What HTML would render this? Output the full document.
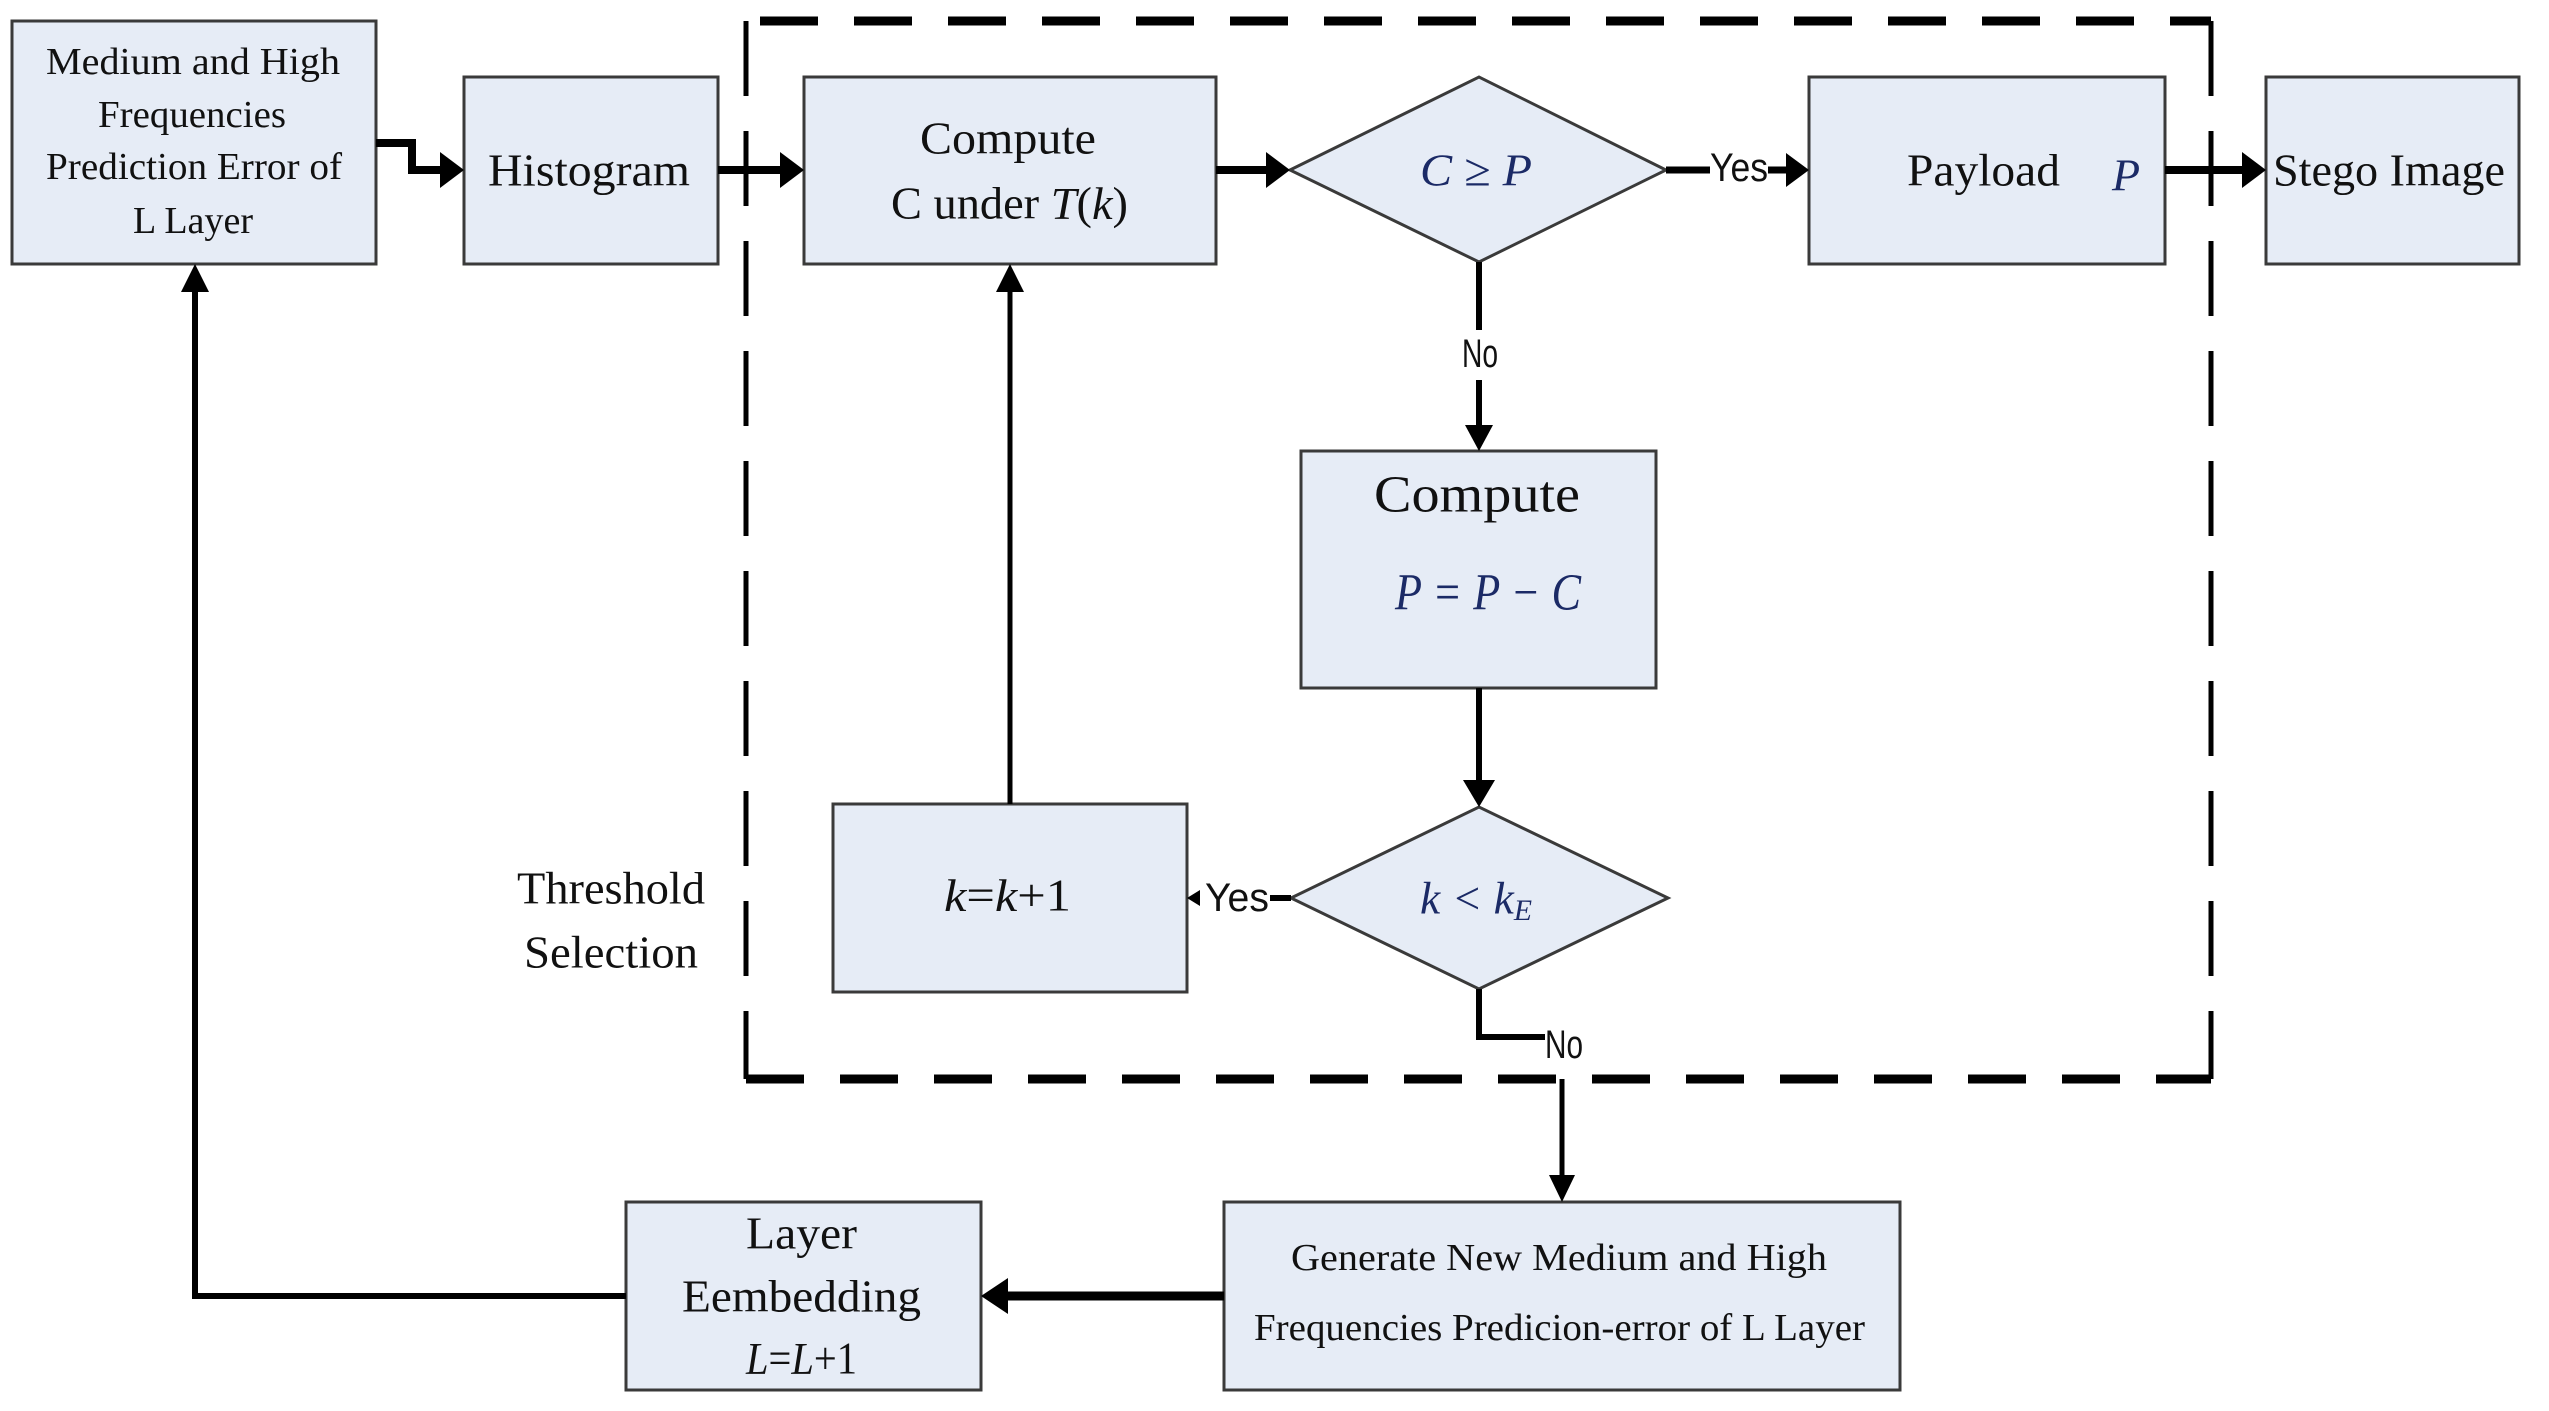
<!DOCTYPE html>
<html><head><meta charset="utf-8"><style>
html,body{margin:0;padding:0;background:#fff}
svg{display:block}
text{font-family:"Liberation Serif",serif;fill:#111;dominant-baseline:central;text-anchor:start}
.s{font-family:"Liberation Sans",sans-serif}
.m{font-style:italic;fill:#1b2a66}
</style></head><body>
<svg width="2549" height="1411" viewBox="0 0 2549 1411" xmlns="http://www.w3.org/2000/svg">
<g fill="#e6ecf6" stroke="#3a3a3a" stroke-width="3">
<rect x="12" y="21" width="364" height="243"/>
<rect x="464" y="77" width="254" height="187"/>
<rect x="804" y="77" width="412" height="187"/>
<rect x="1809" y="77" width="356" height="187"/>
<rect x="2266" y="77" width="253" height="187"/>
<rect x="1301" y="451" width="355" height="237"/>
<rect x="833" y="804" width="354" height="188"/>
<rect x="1224" y="1202" width="676" height="188"/>
<rect x="626" y="1202" width="355" height="188"/>
<polygon points="1290,170 1479,77 1666,170 1479,262"/>
<polygon points="1291,898 1479,807 1668,898 1479,989"/>
</g>
<!-- dashed frame -->
<g stroke="#000" fill="none">
<path d="M760 21 H2211" stroke-width="9" stroke-dasharray="58 36"/>
<path d="M746 1079 H2211" stroke-width="9" stroke-dasharray="58 36"/>
<path d="M746 21 V1079" stroke-width="5" stroke-dasharray="75 35"/>
<path d="M2211 21 V1079" stroke-width="5" stroke-dasharray="75 35"/>
</g>
<!-- connectors -->
<g stroke="#000" fill="none">
<path d="M376 143 H412 V170 H440" stroke-width="8"/>
<path d="M718 170 H780" stroke-width="8"/>
<path d="M1216 170 H1266" stroke-width="8"/>
<path d="M1666 170 H1710" stroke-width="7"/>
<path d="M1768 170 H1786" stroke-width="7"/>
<path d="M2165 170 H2242" stroke-width="8"/>
<path d="M1479 262 V330" stroke-width="6"/>
<path d="M1479 380 V425" stroke-width="6"/>
<path d="M1479 688 V780" stroke-width="6"/>
<path d="M1479 989 V1037 H1545" stroke-width="6"/>
<path d="M1291 898 H1270" stroke-width="6"/>
<path d="M1010 804 V290" stroke-width="5"/>
<path d="M1562 1079 V1175" stroke-width="5"/>
<path d="M1224 1296 H1008" stroke-width="9"/>
<path d="M626 1296 H195 V290" stroke-width="6"/>
</g>
<g fill="#000">
<polygon points="440,152 464,170 440,188"/>
<polygon points="780,152 804,170 780,188"/>
<polygon points="1266,152 1290,170 1266,188"/>
<polygon points="1786,153 1809,170 1786,187"/>
<polygon points="2242,152 2266,170 2242,188"/>
<polygon points="1465,425 1493,425 1479,451"/>
<polygon points="1463,780 1495,780 1479,807"/>
<polygon points="996,292 1024,292 1010,264"/>
<polygon points="181,292 209,292 195,264"/>
<polygon points="1549,1175 1575,1175 1562,1202"/>
<polygon points="1008,1278 1008,1314 981,1296"/>
<polygon points="1200,890 1200,906 1187,898"/>
</g>
<!-- labels -->
<g font-size="38">
<text x="46" y="62" textLength="294" lengthAdjust="spacingAndGlyphs">Medium and High</text>
<text x="98" y="115" textLength="188" lengthAdjust="spacingAndGlyphs">Frequencies</text>
<text x="46" y="167" textLength="296" lengthAdjust="spacingAndGlyphs">Prediction Error of</text>
<text x="133" y="221" textLength="120" lengthAdjust="spacingAndGlyphs">L Layer</text>
</g>
<g font-size="46">
<text x="488" y="170" textLength="202" lengthAdjust="spacingAndGlyphs">Histogram</text>
<text x="920" y="138" textLength="176" lengthAdjust="spacingAndGlyphs">Compute</text>
<text x="891" y="203" textLength="237" lengthAdjust="spacingAndGlyphs">C under <tspan font-style="italic">T</tspan>(<tspan font-style="italic">k</tspan>)</text>
<text class="m" x="1420" y="170" textLength="112" lengthAdjust="spacingAndGlyphs">C ≥ P</text>
<text x="1907" y="170" textLength="153" lengthAdjust="spacingAndGlyphs">Payload</text>
<text class="m" x="2112" y="175">P</text>
<text x="2273" y="170" textLength="232" lengthAdjust="spacingAndGlyphs">Stego Image</text>
<text x="1374" y="495" font-size="52" textLength="206" lengthAdjust="spacingAndGlyphs">Compute</text>
<text class="m" x="1395" y="593" font-size="52" textLength="186" lengthAdjust="spacingAndGlyphs">P = P − C</text>
<text class="m" x="1420" y="898" textLength="112" lengthAdjust="spacingAndGlyphs">k &lt; k<tspan font-size="30" dy="12">E</tspan></text>
<text x="944" y="895" textLength="127" lengthAdjust="spacingAndGlyphs"><tspan font-style="italic">k</tspan>=<tspan font-style="italic">k</tspan>+1</text>
<text x="517" y="888" textLength="188" lengthAdjust="spacingAndGlyphs">Threshold</text>
<text x="524" y="952" textLength="174" lengthAdjust="spacingAndGlyphs">Selection</text>
<text x="746" y="1233" textLength="111" lengthAdjust="spacingAndGlyphs">Layer</text>
<text x="682" y="1296" textLength="239" lengthAdjust="spacingAndGlyphs">Eembedding</text>
<text x="746" y="1358" textLength="111" lengthAdjust="spacingAndGlyphs"><tspan font-style="italic">L</tspan>=<tspan font-style="italic">L</tspan>+1</text>
</g>
<g font-size="38">
<text x="1291" y="1258" textLength="536" lengthAdjust="spacingAndGlyphs">Generate New Medium and High</text>
<text x="1254" y="1328" textLength="611" lengthAdjust="spacingAndGlyphs">Frequencies Predicion-error of L Layer</text>
</g>
<g font-size="40" class="s">
<text class="s" x="1710" y="168" textLength="58" lengthAdjust="spacingAndGlyphs">Yes</text>
<text class="s" x="1462" y="354" textLength="36" lengthAdjust="spacingAndGlyphs">No</text>
<text class="s" x="1205" y="898" textLength="64" lengthAdjust="spacingAndGlyphs">Yes</text>
<text class="s" x="1545" y="1045" textLength="38" lengthAdjust="spacingAndGlyphs">No</text>
</g>
</svg>
</body></html>
